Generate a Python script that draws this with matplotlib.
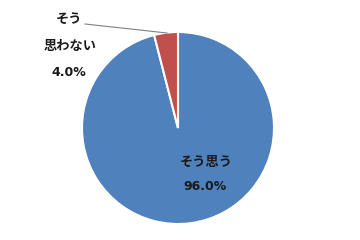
import matplotlib
matplotlib.use("Agg")
import matplotlib.pyplot as plt

plt.rcParams['font.family'] = ['Noto Sans CJK JP', 'DejaVu Sans']

# data
labels = ['そう思う', 'そう\n思わない']
values = [96.0, 4.0]
colors = ['#4F81BD', '#C0504D']

fig = plt.figure(figsize=(3.6, 2.4), dpi=100)
ax = fig.add_axes([0, 0, 1, 1])

# pixel coords -> data (y flipped)
cx, cy, r = 178, 240 - 128, 96
ax.pie(values, colors=colors, startangle=90, counterclock=False,
       center=(cx, cy), radius=r, frame=True,
       wedgeprops=dict(edgecolor='white', linewidth=1.5))
ax.set_xlim(0, 360)
ax.set_ylim(0, 240)
ax.set_aspect('equal')
ax.axis('off')

jp = dict(fontsize=9.5, fontweight='bold', color='#1a1a1a',
          ha='center', va='center')
num = dict(fontsize=9, fontweight='bold', color='#1a1a1a',
           ha='center', va='center', family='DejaVu Sans')

# label for big slice
ax.text(206, 240 - 162, labels[0], **jp)
ax.text(205, 240 - 187, f'{values[0]:.1f}%', **num)

# label for small slice, with leader line
top, bottom = labels[1].split('\n')
ax.text(69, 240 - 19, top, **jp)
ax.text(70, 240 - 46, bottom, **jp)
ax.text(69, 240 - 72, f'{values[1]:.1f}%', **num)
ax.plot([85, 167], [240 - 24, 240 - 33], color='#808080', linewidth=0.8)

fig.savefig('out.png', dpi=100)
